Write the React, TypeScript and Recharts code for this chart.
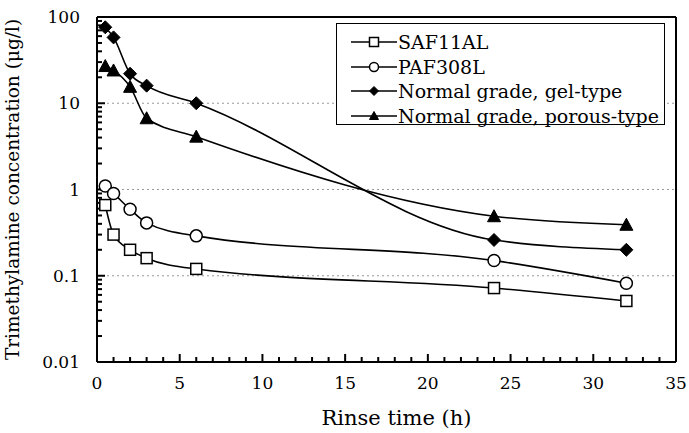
import React from 'react';
import { LineChart, Line, XAxis, YAxis, ReferenceLine } from 'recharts';

// rinse time (h) and concentrations (ug/l)
const rinseTime = [0.5, 1, 2, 3, 6, 24, 32];
const saf11al = [0.66, 0.3, 0.2, 0.16, 0.12, 0.072, 0.051];
const paf308l = [1.1, 0.9, 0.59, 0.41, 0.29, 0.15, 0.082];
const gelType = [76, 58, 22, 16, 10, 0.26, 0.2];
const porousType = [27, 24, 15.5, 6.7, 4.1, 0.49, 0.39];

const xTicks = [0, 5, 10, 15, 20, 25, 30, 35];
const yTicks = [0.01, 0.1, 1, 10, 100];
const yLabels = ['0.01', '0.1', '1', '10', '100'];
const gridValues = [0.1, 1, 10];

// minor tick positions
const xMinor = Array.from({ length: 36 }, (_, i) => i).filter((v) => v % 5 !== 0);
const yMinor: number[] = [];
[0.01, 0.1, 1, 10].forEach((d) => {
  for (let m = 2; m <= 9; m++) yMinor.push(+(d * m).toPrecision(3));
});

const data = rinseTime.map((t, i) => ({
  t,
  saf: saf11al[i],
  paf: paf308l[i],
  gel: gelType[i],
  porous: porousType[i],
}));

const FONT = '"DejaVu Serif", serif';

type Mk = 'square' | 'circle' | 'diamond' | 'triangle';

const marker = (kind: Mk, cx: number, cy: number, s: number, key?: any) => {
  if (kind === 'square')
    return <rect key={key} x={cx - s / 2} y={cy - s / 2} width={s} height={s} fill="#fff" stroke="#000" strokeWidth={1.5} />;
  if (kind === 'circle')
    return <circle key={key} cx={cx} cy={cy} r={s / 2} fill="#fff" stroke="#000" strokeWidth={1.5} />;
  if (kind === 'diamond')
    return (
      <polygon key={key} points={`${cx},${cy - s / 2} ${cx + s / 2},${cy} ${cx},${cy + s / 2} ${cx - s / 2},${cy}`} fill="#000" stroke="#000" />
    );
  return (
    <polygon key={key} points={`${cx},${cy - s / 2} ${cx + s / 2},${cy + s / 2 - 1} ${cx - s / 2},${cy + s / 2 - 1}`} fill="#000" stroke="#000" />
  );
};

const series: { key: string; name: string; kind: Mk; size: number }[] = [
  { key: 'saf', name: 'SAF11AL', kind: 'square', size: 11 },
  { key: 'paf', name: 'PAF308L', kind: 'circle', size: 12 },
  { key: 'gel', name: 'Normal grade, gel-type', kind: 'diamond', size: 13 },
  { key: 'porous', name: 'Normal grade, porous-type', kind: 'triangle', size: 13 },
];

const tickFont = { fontSize: 17, fontFamily: FONT, fill: '#000' };

// short inward tick marks drawn from a reference line's end points
const xTickShape = (len: number) => (p: any) => {
  const yb = Math.max(p.y1, p.y2);
  return <path d={`M${p.x1},${yb}V${yb - len}`} stroke="#000" strokeWidth={2} fill="none" />;
};
const yTickShape = (len: number) => (p: any) => {
  const xl = Math.min(p.x1, p.x2);
  return <path d={`M${xl},${p.y1}H${xl + len}`} stroke="#000" strokeWidth={2} fill="none" />;
};

const LegendBox = () => (
  <div
    style={{
      position: 'absolute',
      left: 336,
      top: 23,
      width: 329,
      height: 102,
      border: '1.5px solid #000',
      background: '#fff',
      boxSizing: 'border-box',
      paddingTop: 6,
      fontFamily: FONT,
      fontSize: 19,
    }}
  >
    {series.map((s) => (
      <div key={s.key} style={{ display: 'flex', alignItems: 'center', height: 24.5 }}>
        <svg width={46} height={20} style={{ marginLeft: 14 }}>
          <line x1={0} x2={46} y1={10} y2={10} stroke="#000" strokeWidth={1.5} />
          {marker(s.kind, 23, 10, 9)}
        </svg>
        <span style={{ marginLeft: 1, whiteSpace: 'nowrap' }}>{s.name}</span>
      </div>
    ))}
  </div>
);

export default function App() {
  return (
    <div style={{ position: 'fixed', left: 0, top: 0, width: 689, height: 433, background: '#fff' }}>
      <LineChart width={689} height={433} data={data} margin={{ top: 17, right: 13, bottom: 0, left: 0 }}>
        <XAxis
          dataKey="t"
          type="number"
          domain={[0, 35]}
          ticks={xTicks}
          interval={0}
          tickSize={0}
          tickMargin={15}
          tickLine={false}
          tick={tickFont}
          height={71}
          axisLine={{ stroke: '#000', strokeWidth: 2 }}
          label={{ value: 'Rinse time (h)', position: 'insideBottom', offset: 8, dx: 10, fontSize: 21, fontFamily: FONT, fill: '#000' }}
        />
        <YAxis
          type="number"
          scale="log"
          domain={[0.01, 100]}
          allowDataOverflow
          ticks={yTicks}
          interval={0}
          tickSize={0}
          tickMargin={17}
          tickLine={false}
          tick={tickFont}
          tickFormatter={(v: number) => yLabels[yTicks.indexOf(v)] ?? String(v)}
          width={97}
          axisLine={{ stroke: '#000', strokeWidth: 2 }}
          label={{
            value: 'Trimethylamine concentration (\u03bcg/l)',
            angle: -90,
            position: 'insideLeft',
            offset: 12,
            style: { textAnchor: 'middle' },
            fontSize: 18.5,
            fontFamily: FONT,
            fill: '#000',
          }}
        />
        {gridValues.map((g) => (
          <ReferenceLine key={`g${g}`} y={g} stroke="#999" strokeDasharray="2 3" />
        ))}
        {xMinor.map((v) => (
          <ReferenceLine key={`xm${v}`} x={v} shape={xTickShape(5)} />
        ))}
        {xTicks.map((v) => (
          <ReferenceLine key={`xM${v}`} x={v} shape={xTickShape(8)} />
        ))}
        {yMinor.map((v) => (
          <ReferenceLine key={`ym${v}`} y={v} shape={yTickShape(5)} />
        ))}
        {yTicks.map((v) => (
          <ReferenceLine key={`yM${v}`} y={v} shape={yTickShape(8)} />
        ))}
        <ReferenceLine y={100} stroke="#000" strokeWidth={2} />
        <ReferenceLine x={35} stroke="#000" strokeWidth={2} />
        {series.map((s) => (
          <Line
            key={s.key}
            dataKey={s.key}
            name={s.name}
            type="monotone"
            stroke="#000"
            strokeWidth={1.6}
            isAnimationActive={false}
            dot={(p: any) => marker(s.kind, p.cx, p.cy, s.size, `${s.key}-${p.index}`)}
          />
        ))}
      </LineChart>
      <LegendBox />
    </div>
  );
}
